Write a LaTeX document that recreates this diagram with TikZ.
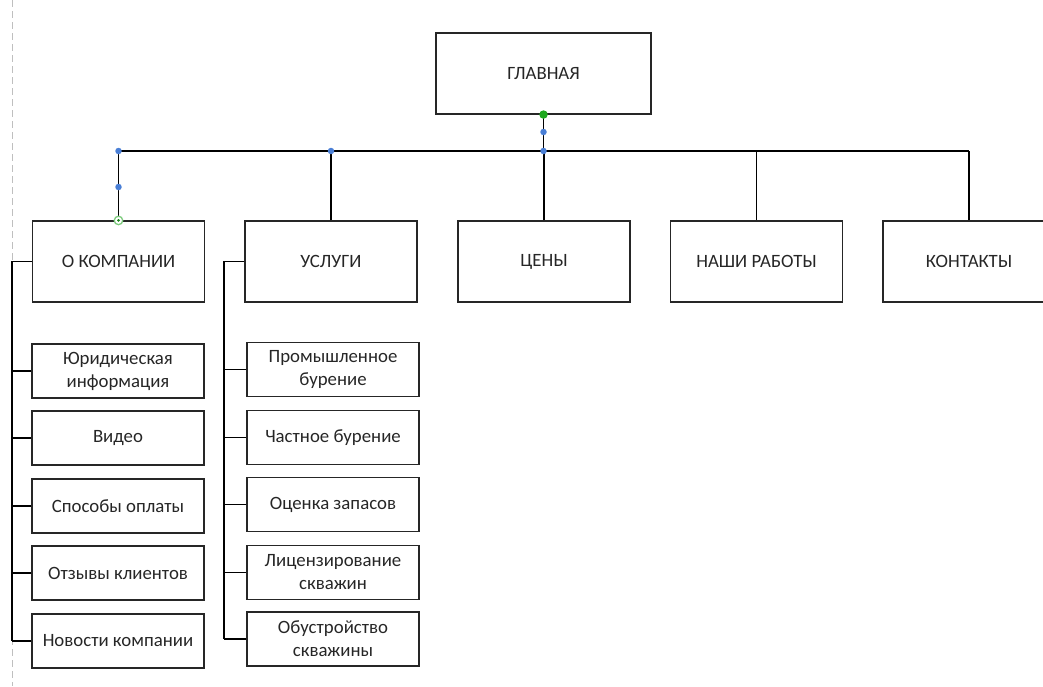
\documentclass[tikz,border=0pt]{standalone}
\usepackage{fontspec}
\setmainfont{Carlito}
\definecolor{dotblue}{HTML}{4A7FD6}
\definecolor{dotgreen}{HTML}{1FA81F}
\definecolor{ringgreen}{HTML}{7DCB7D}
\definecolor{txt}{HTML}{262626}
\begin{document}
\begin{tikzpicture}[x=1pt,y=-1pt,
  box/.style={draw=black!85,line width=1.1pt,minimum width=172pt,minimum height=81pt,inner sep=0pt,
    font=\fontsize{18.8}{23}\selectfont,text=txt,align=center},
  subbox/.style={box,minimum height=54pt},
  conn/.style={draw=black,line width=1.1pt},
  bdot/.style={fill=dotblue,draw=none,circle,minimum size=6.5pt,inner sep=0pt},
]
\useasboundingbox (0,0) rectangle (1043,686);
\clip (0,0) rectangle (1043,686);
\draw[black!25,line width=1pt,dash pattern=on 7pt off 4pt] (12,0) -- (12,686);

\node[box,minimum width=215pt] (main) at (543.5,73.5) {ГЛАВНАЯ};
\node[box] (komp) at (118.5,261.5) {О КОМПАНИИ};
\node[box] (usl) at (331,261.5) {УСЛУГИ};
\node[box] (price) at (544,261.5) {ЦЕНЫ};
\node[box] (works) at (756.5,261.5) {НАШИ РАБОТЫ};
\node[box] (cont) at (969,261.5) {КОНТАКТЫ};

\node[subbox] (k1) at (118,371) {Юридическая\\информация};
\node[subbox] (k2) at (118,438) {Видео};
\node[subbox] (k3) at (118,506) {Способы оплаты};
\node[subbox] (k4) at (118,573) {Отзывы клиентов};
\node[subbox] (k5) at (118,641) {Новости компании};

\node[subbox] (u1) at (333,369.5) {Промышленное\\бурение};
\node[subbox] (u2) at (333,437.5) {Частное бурение};
\node[subbox] (u3) at (333,504.5) {Оценка запасов};
\node[subbox] (u4) at (333,572.5) {Лицензирование\\скважин};
\node[subbox] (u5) at (333,639) {Обустройство\\скважины};

% bus
\coordinate (busL) at (118.5,151);
\coordinate (busR) at (969,151);
\draw[conn] (main.south) -- (main.south |- busL);
\draw[conn] (busL) -- (busR);
\foreach \n in {komp,usl,price,works,cont}
  \draw[conn] (\n.north) -- (\n.north |- busL);

% left tree
\coordinate (lt) at (12,261.5);
\draw[conn] (komp.west) -- (lt) -- (lt |- k5.west);
\foreach \n in {k1,k2,k3,k4,k5}
  \draw[conn] (\n.west) -- (lt |- \n.west);

% right tree
\coordinate (rt) at (224,261.5);
\draw[conn] (usl.west) -- (rt) -- (rt |- u5.west);
\foreach \n in {u1,u2,u3,u4,u5}
  \draw[conn] (\n.west) -- (rt |- \n.west);

% handles
\node[bdot] (d1) at (busL) {};
\node[bdot] (d2) at (118.5,187) {};
\node[bdot] (d3) at (usl.north |- busL) {};
\node[bdot] (d4) at (main.south |- busL) {};
\node[bdot] (d5) at (543.5,132) {};
\node[fill=dotgreen,circle,minimum size=8.5pt,inner sep=0pt] (g1) at (main.south) {};
\node[draw=ringgreen,line width=1.3pt,fill=white,circle,minimum size=8.5pt,inner sep=0pt] (g2) at (komp.north) {};
\node[fill=dotgreen!80!black,circle,minimum size=3pt,inner sep=0pt] (g3) at (komp.north) {};
\end{tikzpicture}
\end{document}
